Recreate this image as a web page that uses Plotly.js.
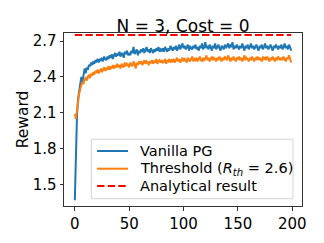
<!DOCTYPE html>
<html>
<head>
<meta charset="utf-8">
<script src="https://cdn.plot.ly/plotly-3.0.1.min.js"></script>
<style>html,body{margin:0;padding:0;background:#fff;}#chart{width:324px;height:243px;}</style>
</head>
<body>
<div id="chart"></div>
<script>
const iterations = Array.from({length: 200}, (_, i) => i);

const vanillaPG = [
  1.37, 1.82, 2.08, 2.22, 2.27, 2.33, 2.40, 2.36, 2.44, 2.47,
  2.43, 2.48, 2.46, 2.50, 2.49, 2.52, 2.50, 2.53, 2.51, 2.54,
  2.53, 2.55, 2.52, 2.55, 2.54, 2.56, 2.53, 2.57, 2.55, 2.54,
  2.57, 2.55, 2.58, 2.56, 2.59, 2.55, 2.58, 2.60, 2.57, 2.59,
  2.58, 2.61, 2.57, 2.60, 2.59, 2.56, 2.61, 2.59, 2.62, 2.58,
  2.60, 2.58, 2.62, 2.60, 2.65, 2.59, 2.61, 2.63, 2.58, 2.62,
  2.60, 2.63, 2.61, 2.64, 2.60, 2.62, 2.65, 2.61, 2.63, 2.60,
  2.64, 2.62, 2.60, 2.63, 2.61, 2.64, 2.62, 2.65, 2.61, 2.63,
  2.62, 2.64, 2.61, 2.65, 2.63, 2.61, 2.64, 2.62, 2.66, 2.63,
  2.62, 2.65, 2.63, 2.66, 2.62, 2.64, 2.67, 2.63, 2.65, 2.68,
  2.64, 2.66, 2.63, 2.65, 2.67, 2.62, 2.66, 2.64, 2.63, 2.66,
  2.64, 2.67, 2.63, 2.65, 2.62, 2.66, 2.64, 2.68, 2.63, 2.65,
  2.69, 2.64, 2.66, 2.63, 2.67, 2.65, 2.62, 2.66, 2.64, 2.68,
  2.63, 2.65, 2.67, 2.64, 2.62, 2.66, 2.65, 2.63, 2.67, 2.64,
  2.66, 2.68, 2.64, 2.67, 2.65, 2.69, 2.63, 2.66, 2.64, 2.67,
  2.65, 2.63, 2.66, 2.64, 2.68, 2.65, 2.62, 2.66, 2.64, 2.67,
  2.63, 2.65, 2.68, 2.64, 2.66, 2.63, 2.65, 2.67, 2.64, 2.62,
  2.66, 2.64, 2.67, 2.63, 2.65, 2.68, 2.64, 2.66, 2.63, 2.65,
  2.67, 2.64, 2.62, 2.66, 2.64, 2.67, 2.65, 2.63, 2.66, 2.64,
  2.67, 2.63, 2.65, 2.68, 2.64, 2.66, 2.63, 2.67, 2.65, 2.62
];

const thresholdPG = [
  2.09, 2.05, 2.12, 2.20, 2.26, 2.30, 2.33, 2.36, 2.34, 2.38,
  2.39, 2.37, 2.40, 2.42, 2.39, 2.43, 2.41, 2.44, 2.42, 2.45,
  2.44, 2.46, 2.43, 2.45, 2.47, 2.44, 2.46, 2.48, 2.45, 2.47,
  2.46, 2.49, 2.46, 2.48, 2.47, 2.50, 2.47, 2.49, 2.48, 2.51,
  2.48, 2.50, 2.47, 2.51, 2.49, 2.48, 2.52, 2.49, 2.51, 2.50,
  2.48, 2.52, 2.50, 2.49, 2.53, 2.51, 2.47, 2.52, 2.50, 2.53,
  2.51, 2.53, 2.50, 2.52, 2.54, 2.51, 2.53, 2.52, 2.50, 2.53,
  2.52, 2.54, 2.51, 2.53, 2.52, 2.55, 2.51, 2.53, 2.54, 2.52,
  2.54, 2.52, 2.53, 2.55, 2.51, 2.54, 2.53, 2.55, 2.52, 2.54,
  2.53, 2.55, 2.52, 2.54, 2.56, 2.53, 2.55, 2.52, 2.54, 2.56,
  2.53, 2.55, 2.54, 2.52, 2.56, 2.54, 2.53, 2.55, 2.57, 2.53,
  2.55, 2.54, 2.56, 2.53, 2.55, 2.57, 2.54, 2.53, 2.56, 2.54,
  2.55, 2.58, 2.54, 2.56, 2.53, 2.55, 2.57, 2.54, 2.56, 2.55,
  2.53, 2.56, 2.54, 2.57, 2.55, 2.53, 2.56, 2.54, 2.57, 2.55,
  2.54, 2.58, 2.55, 2.53, 2.56, 2.54, 2.57, 2.55, 2.53, 2.56,
  2.55, 2.57, 2.54, 2.56, 2.53, 2.55, 2.58, 2.54, 2.56, 2.55,
  2.53, 2.56, 2.54, 2.57, 2.55, 2.53, 2.56, 2.55, 2.57, 2.54,
  2.56, 2.54, 2.53, 2.57, 2.55, 2.56, 2.54, 2.57, 2.55, 2.53,
  2.56, 2.54, 2.57, 2.55, 2.53, 2.56, 2.54, 2.57, 2.55, 2.54,
  2.56, 2.54, 2.57, 2.55, 2.53, 2.56, 2.55, 2.58, 2.54, 2.52
];

const analyticalValue = 2.75;
const analyticalX = [0, 199];
const analyticalY = [analyticalValue, analyticalValue];

const seriesNames = ['Vanilla PG', 'Threshold (<i>R</i><sub><i>th</i></sub> = 2.6)', 'Analytical result'];
const seriesColors = ['#1f77b4', '#ff7f0e', '#ff0000'];
const seriesDash = ['solid', 'solid', '7.4px,3.2px'];

const yTicks = [1.5, 1.8, 2.1, 2.4, 2.7];
const yTickLabels = ['1.5', '1.8', '2.1', '2.4', '2.7'];
const xTicks = [0, 50, 100, 150, 200];
const xTickLabels = ['0', '50', '100', '150', '200'];

const FONT = 'DejaVu Sans, sans-serif';

const traces = [
  {x: iterations, y: vanillaPG, type: 'scatter', mode: 'lines', name: seriesNames[0],
   line: {color: seriesColors[0], width: 2, dash: seriesDash[0]}},
  {x: iterations, y: thresholdPG, type: 'scatter', mode: 'lines', name: seriesNames[1],
   line: {color: seriesColors[1], width: 2, dash: seriesDash[1]}},
  {x: analyticalX, y: analyticalY, type: 'scatter', mode: 'lines', name: seriesNames[2],
   line: {color: seriesColors[2], width: 2, dash: seriesDash[2]}}
];

const axisCommon = {
  showgrid: false, zeroline: false, showline: true, mirror: true,
  linecolor: '#333', linewidth: 1, ticks: 'outside', ticklen: 3.5, tickwidth: 1,
  tickcolor: '#333', tickfont: {family: FONT, size: 15, color: '#000'}
};

// Custom legend (box, line samples, labels) in paper coordinates
const legBox = {x0: 0.115, x1: 0.962, y0: 0.042, y1: 0.386};
const legRowsY = [0.318, 0.2156, 0.1156];
const legLineX = [0.139, 0.269];
const legTextX = 0.311;

const shapes = [{
  type: 'rect', xref: 'paper', yref: 'paper', layer: 'above',
  x0: legBox.x0, x1: legBox.x1, y0: legBox.y0, y1: legBox.y1,
  line: {color: '#d5d5d5', width: 1}, fillcolor: 'rgba(255,255,255,0.8)'
}];
const annotations = [];
seriesNames.forEach((nm, i) => {
  shapes.push({
    type: 'line', xref: 'paper', yref: 'paper', layer: 'above',
    x0: legLineX[0], x1: legLineX[1], y0: legRowsY[i], y1: legRowsY[i],
    line: {color: seriesColors[i], width: 2, dash: seriesDash[i]}
  });
  annotations.push({
    xref: 'paper', yref: 'paper', x: legTextX, y: legRowsY[i],
    xanchor: 'left', yanchor: 'middle', showarrow: false, text: nm,
    font: {family: FONT, size: 14.5, color: '#000'}
  });
});

const layout = {
  width: 324, height: 243,
  margin: {l: 64, r: 22, t: 33, b: 37, pad: 0},
  paper_bgcolor: '#fff', plot_bgcolor: '#fff',
  title: {text: 'N = 3, Cost = 0', font: {family: FONT, size: 17, color: '#000'},
          x: 0.565, xref: 'container', xanchor: 'center', y: 0.894, yref: 'container', yanchor: 'middle'},
  xaxis: Object.assign({}, axisCommon, {
    range: [-9.95, 208.95], tickvals: xTicks, ticktext: xTickLabels
  }),
  yaxis: Object.assign({}, axisCommon, {
    range: [1.322, 2.767], tickvals: yTicks, ticktext: yTickLabels,
    title: {text: 'Reward', font: {family: FONT, size: 15.5, color: '#000'}, standoff: 0}
  }),
  showlegend: false,
  shapes: shapes,
  annotations: annotations
};

Plotly.newPlot('chart', traces, layout, {staticPlot: true, displayModeBar: false});
</script>
</body>
</html>
